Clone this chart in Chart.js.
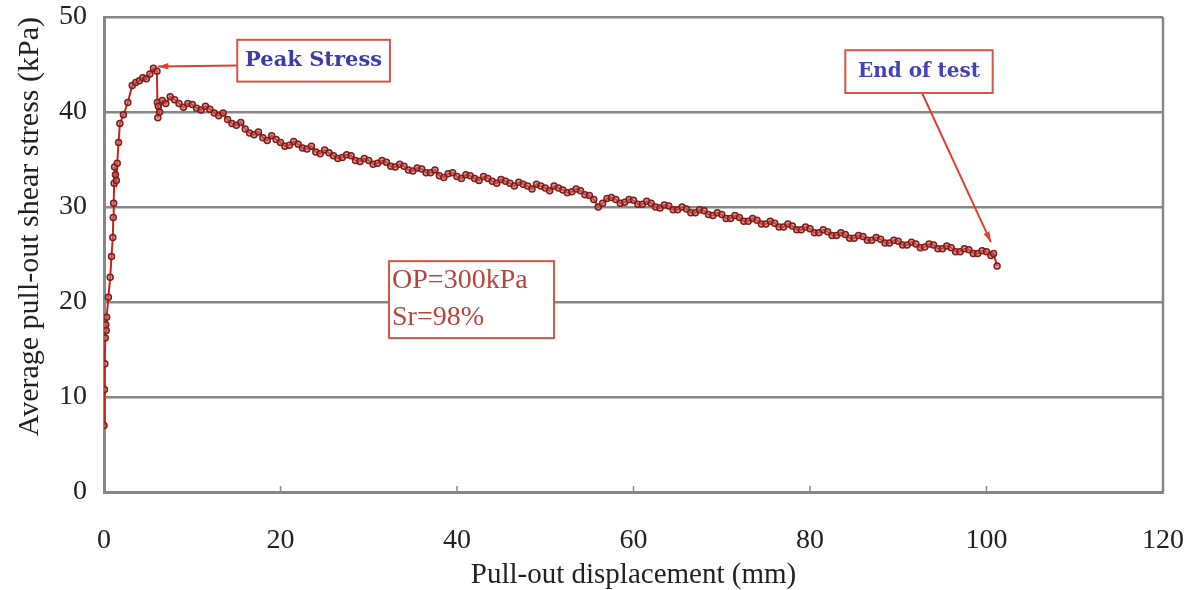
<!DOCTYPE html>
<html>
<head>
<meta charset="utf-8">
<script src="https://cdn.jsdelivr.net/npm/chart.js@4.4.1/dist/chart.umd.min.js"></script>
<style>
  html, body { margin: 0; padding: 0; background: #fff; }
</style>
</head>
<body>
<canvas id="pulloutChart" width="1192" height="590"></canvas>
<script>
// pull-out displacement (mm) and average pull-out shear stress (kPa)
const dispMm = [
  0, 0.05, 0.1, 0.15, 0.2, 0.25, 0.3, 0.5, 0.7, 0.85, 1.0, 1.05, 1.1, 1.15, 1.2, 1.3, 1.4, 1.5, 1.65, 1.8,
  2.2, 2.7, 3.2, 3.6, 4.0, 4.4, 4.8, 5.2, 5.6, 6.0, 6.05, 6.1, 6.15, 6.3, 6.6, 7.0, 7.5, 8.0,
  8.5, 9, 9.5, 10, 10.5, 11, 11.5, 12, 12.5, 13, 13.5, 14, 14.5, 15, 15.5, 16, 16.5, 17, 17.5, 18,
  18.5, 19, 19.5, 20, 20.5, 21, 21.5, 22, 22.5, 23, 23.5, 24, 24.5, 25, 25.5, 26, 26.5, 27, 27.5, 28,
  28.5, 29, 29.5, 30, 30.5, 31, 31.5, 32, 32.5, 33, 33.5, 34, 34.5, 35, 35.5, 36, 36.5, 37, 37.5, 38,
  38.5, 39, 39.5, 40, 40.5, 41, 41.5, 42, 42.5, 43, 43.5, 44, 44.5, 45, 45.5, 46, 46.5, 47, 47.5, 48,
  48.5, 49, 49.5, 50, 50.5, 51, 51.5, 52, 52.5, 53, 53.5, 54, 54.5, 55, 55.5, 56, 56.5, 57, 57.5, 58,
  58.5, 59, 59.5, 60, 60.5, 61, 61.5, 62, 62.5, 63, 63.5, 64, 64.5, 65, 65.5, 66, 66.5, 67, 67.5, 68,
  68.5, 69, 69.5, 70, 70.5, 71, 71.5, 72, 72.5, 73, 73.5, 74, 74.5, 75, 75.5, 76, 76.5, 77, 77.5, 78,
  78.5, 79, 79.5, 80, 80.5, 81, 81.5, 82, 82.5, 83, 83.5, 84, 84.5, 85, 85.5, 86, 86.5, 87, 87.5, 88,
  88.5, 89, 89.5, 90, 90.5, 91, 91.5, 92, 92.5, 93, 93.5, 94, 94.5, 95, 95.5, 96, 96.5, 97, 97.5, 98,
  98.5, 99, 99.5, 100, 100.5, 100.8, 101.2
];
const stressKpa = [
  7.0, 10.8, 13.5, 16.2, 17.6, 17.0, 18.4, 20.5, 22.6, 24.8, 26.8, 28.9, 30.4, 32.5, 34.2, 33.4, 32.8, 34.6, 36.8, 38.8,
  39.7, 41.0, 42.8, 43.1, 43.3, 43.6, 43.5, 44.0, 44.6, 44.3, 41.0, 39.4, 40.6, 40.0, 41.2, 40.9, 41.6, 41.3,
  40.9, 40.5, 40.9, 40.8, 40.4, 40.2, 40.6, 40.3, 39.9, 39.6, 39.9, 39.2, 38.8, 38.6, 38.9, 38.2, 37.8, 37.6, 37.9, 37.3,
  37.0, 37.5, 37.1, 36.8, 36.4, 36.5, 36.9, 36.6, 36.2, 36.1, 36.4, 35.8, 35.6, 36.0, 35.7, 35.4, 35.1, 35.2, 35.5, 35.4,
  34.9, 34.8, 35.1, 34.9, 34.5, 34.6, 34.9, 34.7, 34.3, 34.2, 34.5, 34.3, 33.9, 33.8, 34.1, 34.0, 33.6, 33.6, 33.9, 33.3,
  33.1, 33.5, 33.6, 33.2, 33.0, 33.4, 33.3, 33.0, 32.8, 33.2, 33.0, 32.7, 32.5, 32.9, 32.7, 32.5, 32.2, 32.6, 32.4, 32.2,
  31.9, 32.4, 32.2, 32.0, 31.7, 32.2, 32.0, 31.8, 31.5, 31.6, 31.9, 31.7, 31.3, 31.2, 30.8, 30.0, 30.4, 30.9, 31.0, 30.8,
  30.4, 30.5, 30.8, 30.7, 30.3, 30.3, 30.6, 30.4, 30.0, 29.9, 30.2, 30.1, 29.7, 29.7, 30.0, 29.8, 29.4, 29.4, 29.7, 29.6,
  29.2, 29.1, 29.4, 29.2, 28.8, 28.8, 29.1, 28.9, 28.5, 28.5, 28.8, 28.6, 28.2, 28.2, 28.5, 28.3, 27.9, 27.9, 28.2, 28.0,
  27.6, 27.6, 27.9, 27.7, 27.3, 27.3, 27.6, 27.4, 27.0, 27.0, 27.3, 27.1, 26.7, 26.7, 27.0, 26.9, 26.5, 26.5, 26.8, 26.6,
  26.2, 26.2, 26.5, 26.4, 26.0, 26.0, 26.3, 26.1, 25.7, 25.8, 26.1, 26.0, 25.6, 25.6, 25.9, 25.7, 25.3, 25.3, 25.6, 25.5,
  25.1, 25.1, 25.4, 25.3, 24.9, 25.1, 23.8
];

const xTicks = [0, 20, 40, 60, 80, 100, 120];
const yTicks = [0, 10, 20, 30, 40, 50];

const serif = "'Liberation Serif', 'Times New Roman', serif";
const frameGray = "#878787";

// box border on the right, short inner ticks on the x axis, and the three callouts
const overlay = {
  id: "overlay",
  beforeDatasetsDraw(chart) {
    const { ctx, chartArea: a, scales: { x } } = chart;
    ctx.save();
    ctx.strokeStyle = frameGray;
    ctx.lineWidth = 2.5;
    ctx.beginPath();
    ctx.moveTo(a.right, a.top);
    ctx.lineTo(a.right, a.bottom);
    ctx.stroke();
    ctx.lineWidth = 1.5;
    xTicks.slice(1, -1).forEach(v => {
      const px = x.getPixelForValue(v);
      ctx.beginPath();
      ctx.moveTo(px, a.bottom);
      ctx.lineTo(px, a.bottom - 6);
      ctx.stroke();
    });
    ctx.restore();
  },
  afterDatasetsDraw(chart) {
    const { ctx, scales: { x, y } } = chart;
    const px = v => x.getPixelForValue(v);
    const py = v => y.getPixelForValue(v);

    const arrow = (x1, y1, x2, y2) => {
      ctx.strokeStyle = "#e2402f";
      ctx.fillStyle = "#e2402f";
      ctx.lineWidth = 2;
      ctx.beginPath();
      ctx.moveTo(x1, y1);
      ctx.lineTo(x2, y2);
      ctx.stroke();
      const ang = Math.atan2(y2 - y1, x2 - x1);
      ctx.beginPath();
      ctx.moveTo(x2, y2);
      ctx.lineTo(x2 - 11 * Math.cos(ang - 0.3), y2 - 11 * Math.sin(ang - 0.3));
      ctx.lineTo(x2 - 11 * Math.cos(ang + 0.3), y2 - 11 * Math.sin(ang + 0.3));
      ctx.closePath();
      ctx.fill();
    };
    const box = (x1, y1, x2, y2) => {
      ctx.fillStyle = "#fff";
      ctx.fillRect(px(x1), py(y1), px(x2) - px(x1), py(y2) - py(y1));
      ctx.strokeStyle = "#d9534a";
      ctx.lineWidth = 2;
      ctx.strokeRect(px(x1), py(y1), px(x2) - px(x1), py(y2) - py(y1));
    };

    ctx.save();
    // Peak Stress
    arrow(px(15.1), py(44.9), px(6.1), py(44.8));
    box(15.1, 47.6, 32.4, 43.2);
    ctx.fillStyle = "#3c3caa";
    ctx.font = "bold 21px 'DejaVu Serif', serif";
    ctx.textAlign = "center";
    ctx.textBaseline = "middle";
    ctx.fillText("Peak Stress", (px(15.1) + px(32.4)) / 2, (py(47.6) + py(43.2)) / 2);

    // End of test
    arrow(px(92.7), py(42.0), px(100.5), py(26.3));
    box(84.0, 46.5, 100.7, 42.0);
    ctx.fillStyle = "#4242bd";
    ctx.font = "bold 20px 'DejaVu Serif', serif";
    ctx.fillText("End of test", (px(84.0) + px(100.7)) / 2, (py(46.5) + py(42.0)) / 2);

    // test conditions
    box(32.3, 24.3, 51.0, 16.2);
    ctx.fillStyle = "#b5453f";
    ctx.font = "28px " + serif;
    ctx.textAlign = "left";
    ctx.fillText("OP=300kPa", px(32.3) + 3, py(22.2));
    ctx.fillText("Sr=98%", px(32.3) + 3, py(18.4));
    ctx.restore();
  }
};

const ctx = document.getElementById("pulloutChart");

const data = {
  datasets: [
    {
      label: "OP=300kPa, Sr=98%",
      data: dispMm.map((d, i) => ({ x: d, y: stressKpa[i] })),
      borderColor: "#c42520",
      borderWidth: 2,
      pointRadius: 3,
      pointBorderWidth: 1.5,
      pointBorderColor: "#7e1d1d",
      pointBackgroundColor: "rgba(205, 100, 90, 0.6)",
      tension: 0,
    },
  ],
};

const config = {
  type: "line",
  data: data,
  options: {
    responsive: false,
    animation: false,
    layout: { padding: { top: 17, right: 29, left: 0, bottom: 0 } },
    plugins: { legend: { display: false }, tooltip: { enabled: false } },
    scales: {
      x: {
        type: "linear",
        min: xTicks[0],
        max: xTicks[xTicks.length - 1],
        afterBuildTicks: s => { s.ticks = xTicks.map(v => ({ value: v })); },
        afterFit: s => { s.height = 98; s.paddingLeft = 0; s.paddingRight = 0; },
        grid: { display: false },
        border: { color: frameGray, width: 3 },
        ticks: { color: "#222", padding: 24, maxRotation: 0, font: { family: serif, size: 28 } },
        title: {
          display: true,
          text: "Pull-out displacement (mm)",
          color: "#222",
          padding: 0,
          font: { family: serif, size: 29, lineHeight: 1 },
        },
      },
      y: {
        min: yTicks[0],
        max: yTicks[yTicks.length - 1],
        afterBuildTicks: s => { s.ticks = yTicks.map(v => ({ value: v })); },
        afterFit: s => { s.width = 104; s.paddingTop = 0; s.paddingBottom = 0; },
        grid: { color: frameGray, lineWidth: 2.5, drawTicks: false },
        border: { color: frameGray, width: 3 },
        ticks: { color: "#222", padding: 17, font: { family: serif, size: 28 } },
        title: {
          display: true,
          text: "Average pull-out shear stress (kPa)",
          color: "#222",
          align: "end",
          padding: { top: 15, bottom: 0 },
          font: { family: serif, size: 30, lineHeight: 1 },
        },
      },
    },
  },
  plugins: [overlay],
};

new Chart(ctx, config);
</script>
</body>
</html>
